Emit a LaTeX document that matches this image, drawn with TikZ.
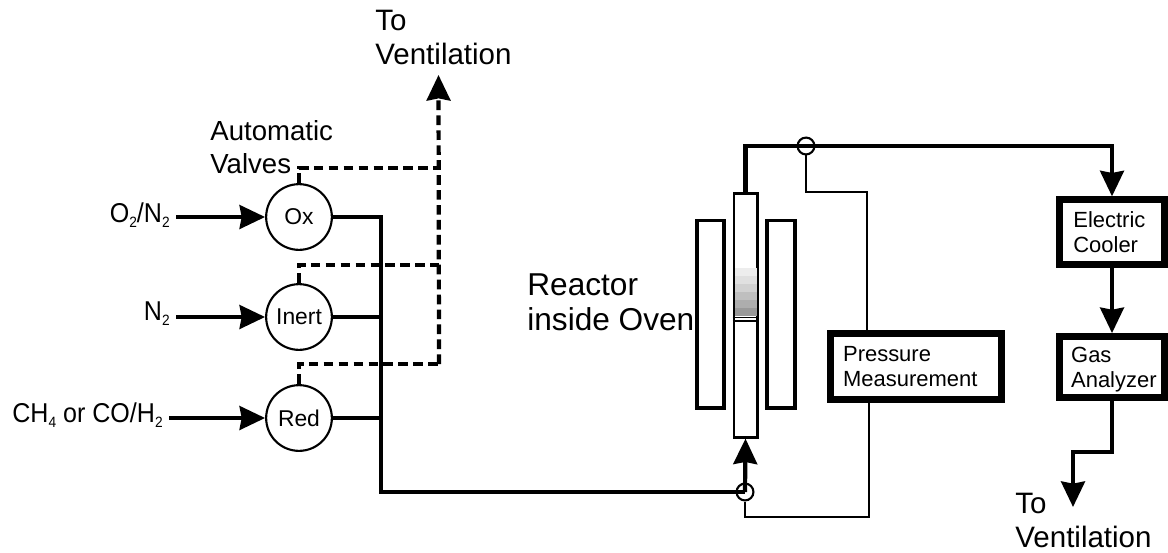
\documentclass[tikz,border=0pt]{standalone}
\usepackage{fontspec}
\setmainfont{Liberation Sans}
\newfontfamily\feedfont[FakeStretch=0.92]{Liberation Sans}
\newcommand{\lowidx}[1]{\raisebox{-.35ex}{\fontsize{8.5}{9}\selectfont #1}}
\usetikzlibrary{arrows.meta}
\tikzset{
  pipe/.style={line width=2.4pt},
  flow/.style={pipe,-{Stealth[inset=1.2pt,length=14.5pt,width=13.5pt]}},
  vent/.style={flow,dash pattern=on 5.5pt off 3pt},
  signal/.style={line width=1.3pt},
  valve/.style={draw,circle,line width=1.2pt,minimum size=37.4pt,inner sep=0pt,font=\fontsize{13}{14}\selectfont},
  joint/.style={draw,circle,line width=1.2pt,minimum size=9.6pt,inner sep=0pt},
  heater/.style={draw,line width=2.2pt,minimum width=15.6pt,minimum height=106.5pt,inner sep=0pt},
  device/.style={draw,line width=4pt,align=left,inner ysep=0pt,font=\fontsize{12.5}{14.2}\selectfont},
  feed/.style={anchor=east,inner sep=0pt,font=\feedfont\fontsize{15.5}{18}\selectfont},
  label/.style={anchor=north west,align=left,inner sep=0pt,font=\fontsize{16.8}{19}\selectfont}
}
\begin{document}
\begin{tikzpicture}[x=0.02cm,y=-0.02cm]
    \useasboundingbox (0,0) rectangle (1168,552);
    % valves and feeds
    \node[valve] (ox) at (299,217) {Ox};
    \node[valve] (inert) at (299,317) {Inert};
    \node[valve] (red) at (299,418) {Red};
    \node[feed] (o2) at (170,215) {O\lowidx{2}/N\lowidx{2}};
    \node[feed] (n2) at (170,314) {N\lowidx{2}};
    \node[feed] (ch4) at (163,415) {CH\lowidx{4} or CO/H\lowidx{2}};
    \draw[flow,shorten <=3.5pt] (o2.east |- ox) -- (ox);
    \draw[flow,shorten <=3.5pt] (n2.east |- inert) -- (inert);
    \draw[flow,shorten <=3.5pt] (ch4.east |- red) -- (red);
    \node[label,font=\fontsize{15.7}{19}\selectfont] (auto) at (210,120) {Automatic\\Valves};
    % reactor
    \node[draw,line width=1.2pt,minimum width=13.6pt,minimum height=138.9pt,inner sep=0pt] (reactor) at (745.5,315.5) {};
    \foreach \y/\g in {268/7,276/12,284/18,292/25,300/32,308/40}
      \fill[black!\g] (735,\y) rectangle (757,\y+8);
    \draw[line width=.7pt] (reactor.west |- 0,317.5) -- (reactor.east |- 0,317.5);
    \draw[line width=.7pt] (reactor.west |- 0,321) -- (reactor.east |- 0,321);
    \node[heater] (ovenl) at (710.5,314) {};
    \node[heater] (ovenr) at (781,314) {};
    \node[label,font=\fontsize{18}{20.4}\selectfont] (oven) at (527,273) {Reactor\\inside Oven};
    % devices
    \node[device,inner xsep=7pt,text width=83pt,minimum height=37.4pt] (pressure) at (916,366.5) {Pressure\\Measurement};
    \node[device,inner xsep=7.7pt,text width=44pt,minimum height=36.6pt] (cooler) at (1112,232) {Electric\\Cooler};
    \node[device,inner xsep=6.5pt,text width=46.5pt,minimum height=34.6pt] (analyzer) at (1112,367) {Gas\\\smash{Analyzer}};
    \node[joint] (inlet) at (745,492) {};
    \node[joint] (outlet) at (806,146) {};
    % feed lines
    \coordinate (bus) at (381,492);
    \draw[pipe] (ox) -| (bus) -- (inlet.center);
    \draw[pipe] (inert) -- (inert -| bus);
    \draw[pipe] (red) -- (red -| bus);
    \draw[flow] (inlet.center) -- (reactor.south);
    \draw[flow] (reactor.north) |- (outlet.center) -| (cooler.north);
    \draw[flow] (cooler) -- (analyzer);
    % exhaust
    \coordinate (drain) at (1073,452);
    \coordinate (out) at (1073,507);
    \draw[flow] (analyzer.south) |- (drain) -- (out);
    \node[label] (toout) at (1015,493) {To\\Ventilation};
    % dashed vent lines
    \coordinate (top) at (438.5,75);
    \coordinate (oxv) at (299,168);
    \coordinate (inv) at (299,265);
    \coordinate (rev) at (299,364);
    \draw[vent] (439,364) -- (top);
    \draw[vent,-] (ox) -- (oxv) -- (oxv -| top);
    \draw[vent,-] (inert) -- (inv) -- (inv -| top);
    \draw[vent,-] (red) -- (rev) -- (rev -| top);
    \node[label] (toin) at (375,10) {To\\Ventilation};
    % pressure tap
    \coordinate (tap) at (867,192);
    \coordinate (ret) at (869,517);
    \draw[signal] (outlet) |- (tap) -- (tap |- pressure.north);
    \draw[signal] (inlet) |- (ret) -- (ret |- pressure.south);
\end{tikzpicture}
\end{document}
